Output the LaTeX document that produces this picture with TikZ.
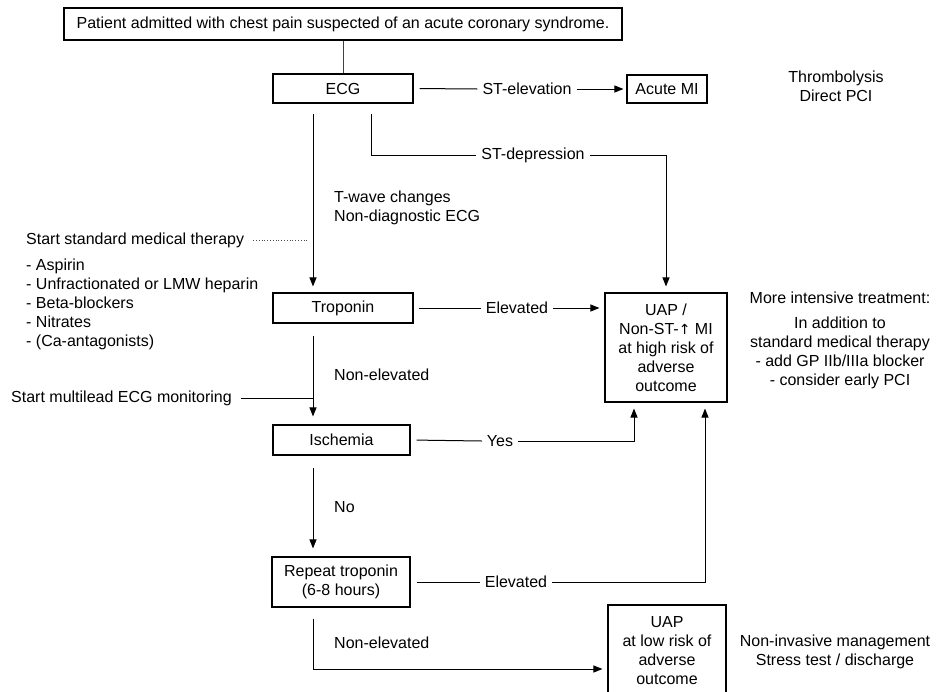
\documentclass[tikz,border=0pt]{standalone}
\usepackage{fontspec}
\setmainfont{Liberation Sans}
\newfontfamily\dejavu{DejaVu Sans}
\usetikzlibrary{arrows.meta}
\begin{document}
\begin{tikzpicture}[x=1pt,y=-1pt,
  every node/.style={font=\fontsize{16}{19}\selectfont},
  box/.style={draw, line width=1.1pt, inner sep=0pt, align=center},
  txt/.style={inner sep=1pt, align=center},
  lbl/.style={fill=white, inner sep=5pt},
  conn/.style={line width=1pt},
  arr/.style={conn, -{Triangle[length=9pt,width=7pt]}},
  thinline/.style={line width=0.6pt, black!75},
  dotline/.style={line width=0.8pt, dotted, black!70}]
\useasboundingbox (0,0) rectangle (945,691);
\clip (0,0) rectangle (945,691);
% boxes
\node[box, minimum width=558, minimum height=32] (top) at (343,24) {Patient admitted with chest pain suspected of an acute coronary syndrome.};
\node[box, minimum width=140, minimum height=29] (ecg) at (343,88.5) {ECG};
\node[box, minimum width=80, minimum height=28] (ami) at (667,89) {Acute MI};
\node[box, minimum width=140, minimum height=30] (trop) at (343,308) {Troponin};
\node[box, minimum width=137, minimum height=30] (isch) at (341.5,440) {Ischemia};
\node[box, minimum width=138, minimum height=50] (rep) at (341,582) {Repeat troponin\\(6-8 hours)};
\node[box, minimum width=122, minimum height=109] (uaph) at (666,347.5) {UAP /\\Non-ST-{\dejavu\fontsize{14}{19}\selectfont ↑} MI\\at high risk of\\adverse\\outcome};
\node[box, minimum width=118, minimum height=92] (uapl) at (667,651) {UAP\\at low risk of\\adverse\\outcome};
% side texts
\node[txt] (thr) at (836,86.5) {Thrombolysis\\Direct PCI};
\node[txt] (mit) at (840,298) {More intensive treatment:};
\node[txt] (add) at (840,352.5) {In addition to\\standard medical therapy\\- add GP IIb/IIIa blocker\\- consider early PCI};
\node[txt] (nim) at (835,652) {Non-invasive management\\Stress test / discharge};
\node[txt, anchor=west] (sst) at (25,240) {Start standard medical therapy};
\node[txt, anchor=west, align=left] (list) at (25,304) {- Aspirin\\- Unfractionated or LMW heparin\\- Beta-blockers\\- Nitrates\\- (Ca-antagonists)};
\node[txt, anchor=west] (sml) at (10,398) {Start multilead ECG monitoring};
\node[txt, anchor=west, align=left] (tw) at (333,208) {T-wave changes\\Non-diagnostic ECG};
\node[txt, anchor=west] (ne1) at (333,375) {Non-elevated};
\node[txt, anchor=west] (no) at (333,507) {No};
\node[txt, anchor=west] (ne2) at (333,643) {Non-elevated};
% labels on lines
\node[lbl] (ste) at (527,89) {ST-elevation};
\node[lbl] (std) at (533,155) {ST-depression};
\node[lbl] (el1) at (517,308) {Elevated};
\node[lbl] (yes) at (500,441) {Yes};
\node[lbl] (el2) at (516,582) {Elevated};
% helper coordinates
\coordinate (colx) at (313,0);
\coordinate (stdx) at (371,0);
\coordinate (yesx) at (634,0);
\coordinate (el2x) at (705,0);
\coordinate (boty) at (0,669);
% connectors
\draw[thinline] (top) -- (ecg);
\draw[conn, shorten <=6pt] (ecg.east) -- (ste.west);
\draw[arr, shorten >=3pt] (ste.east) -- (ami.west);
\draw[conn, shorten <=10pt] (ecg.south -| stdx) |- (std.west);
\draw[arr, shorten >=6pt] (std.east) -| (uaph.north);
\draw[arr, shorten <=10pt, shorten >=6pt] (ecg.south -| colx) -- (trop.north -| colx);
\draw[dotline, shorten <=8pt, shorten >=4pt] (sst.east) -- (sst.east -| colx);
\draw[arr, shorten <=12pt, shorten >=8pt] (trop.south -| colx) -- (isch.north -| colx);
\draw[conn, shorten <=8pt] (sml.east) -- (sml.east -| colx);
\draw[arr, shorten <=12pt, shorten >=8pt] (isch.south -| colx) -- (rep.north -| colx);
\draw[conn, shorten <=5pt] (trop.east) -- (el1.west);
\draw[arr, shorten >=5pt] (el1.east) -- (el1.east -| uaph.west);
\draw[conn, shorten <=6pt] (isch.east) -- (yes.west);
\draw[arr, shorten >=6pt] (yes.east) -| (uaph.south -| yesx);
\draw[conn, shorten <=6pt] (rep.east) -- (el2.west);
\draw[arr, shorten >=6pt] (el2.east) -| (uaph.south -| el2x);
\draw[arr, shorten <=11pt, shorten >=5pt] (rep.south -| colx) -- (colx |- boty) -- (uapl.west |- boty);
\end{tikzpicture}
\end{document}
